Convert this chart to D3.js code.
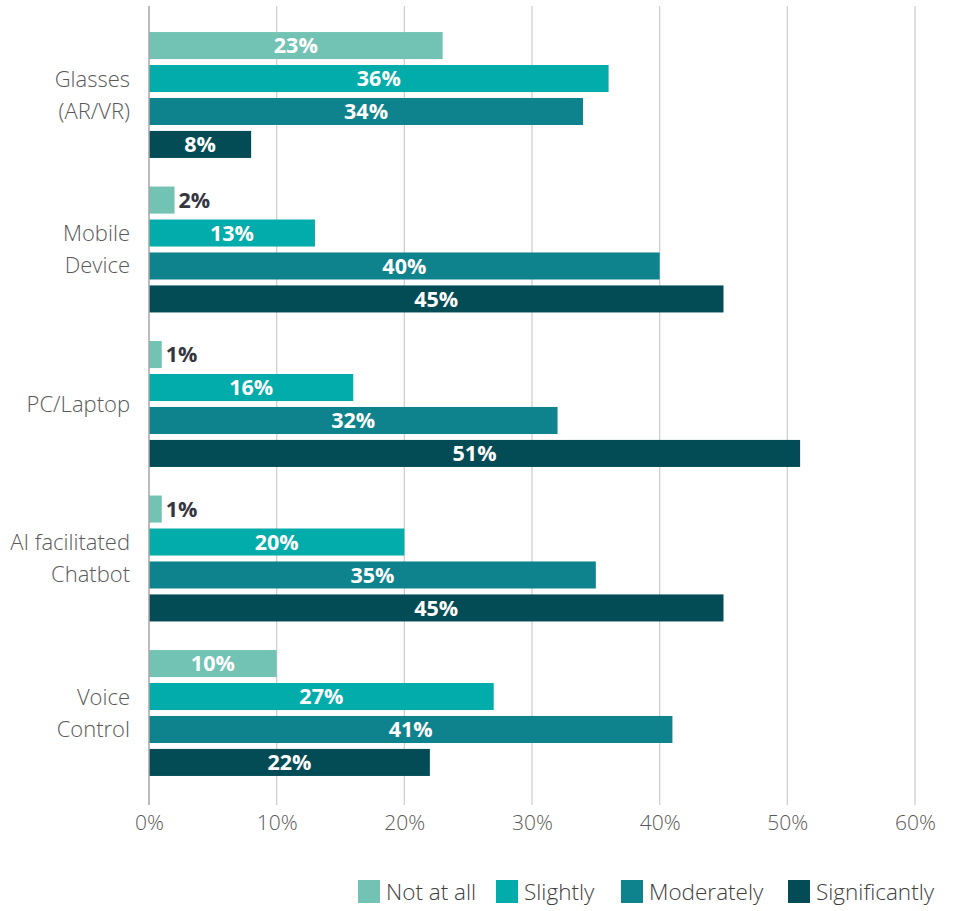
<!DOCTYPE html>
<html>
<head>
<meta charset="utf-8">
<script src="https://cdn.jsdelivr.net/npm/d3@7"></script>
<style>
  html, body { margin: 0; padding: 0; background: #fff; }
  svg { display: block; font-family: "Open Sans", sans-serif; }
</style>
</head>
<body>
<svg id="chart" width="954" height="911"></svg>
<script>
// Devices and the share of respondents for each level of change
const categories = [["Glasses", "(AR/VR)"], ["Mobile", "Device"], ["PC/Laptop"], ["AI facilitated", "Chatbot"], ["Voice", "Control"]];
const seriesNames = ["Not at all", "Slightly", "Moderately", "Significantly"];
const notAtAll     = [23, 2, 1, 1, 10];
const slightly     = [36, 13, 16, 20, 27];
const moderately   = [34, 40, 32, 35, 41];
const significantly = [8, 45, 51, 45, 22];
const seriesColors = ["#72c3b4", "#02acaa", "#0e838d", "#034c56"];
const xTicks = [0, 10, 20, 30, 40, 50, 60];

const series = [notAtAll, slightly, moderately, significantly];

const svg = d3.select("#chart");
const x = d3.scaleLinear().domain([0, 60]).range([149, 915]);
const y0 = d3.scaleBand()
  .domain(d3.range(categories.length))
  .range([17.75, 790.25])
  .paddingInner(0.185)
  .paddingOuter(0.0925);
const y1 = d3.scaleBand()
  .domain(d3.range(seriesNames.length))
  .range([0, y0.bandwidth()])
  .paddingInner(0.18)
  .paddingOuter(0);

// Vertical gridlines, extending a little below the plot as tick marks
svg.append("g").selectAll("line")
  .data(xTicks.slice(1))
  .join("line")
  .attr("x1", d => x(d)).attr("x2", d => x(d))
  .attr("y1", 6).attr("y2", 805)
  .attr("stroke", "#d0d0d0").attr("stroke-width", 1.3);

// Bottom axis labels
const xAxis = d3.axisBottom(x).tickValues(xTicks).tickFormat(d => d + "%").tickSize(0).tickPadding(0);
const gx = svg.append("g").attr("transform", "translate(0,815)").call(xAxis);
gx.select(".domain").remove();
gx.selectAll("text")
  .attr("dy", "0.71em")
  .attr("font-family", "Open Sans")
  .attr("font-weight", 300)
  .attr("font-size", 21)
  .attr("fill", "#595959");

// Bars
const groups = svg.append("g").selectAll("g")
  .data(categories.map((c, i) => i))
  .join("g")
  .attr("transform", i => `translate(0,${y0(i)})`);

groups.selectAll("rect")
  .data(i => series.map((s, k) => ({ k, v: s[i] })))
  .join("rect")
  .attr("x", x(0))
  .attr("y", d => y1(d.k))
  .attr("width", d => x(d.v) - x(0))
  .attr("height", y1.bandwidth())
  .attr("fill", d => seriesColors[d.k]);

// Value labels: centred inside long bars, just past the end of short ones
groups.selectAll("text.val")
  .data(i => series.map((s, k) => ({ k, v: s[i] })))
  .join("text")
  .attr("class", "val")
  .attr("x", d => d.v < 5 ? x(d.v) + 4 : (x(0) + x(d.v)) / 2)
  .attr("y", d => y1(d.k) + y1.bandwidth() / 2)
  .attr("dy", "0.36em")
  .attr("text-anchor", d => d.v < 5 ? "start" : "middle")
  .attr("font-weight", 700)
  .attr("font-size", 21.5)
  .attr("fill", d => d.v < 5 ? "#36363f" : "#ffffff")
  .text(d => d.v + "%");

// Axis line at zero
svg.append("line")
  .attr("x1", x(0)).attr("x2", x(0))
  .attr("y1", 6).attr("y2", 805)
  .attr("stroke", "#a6a6a6").attr("stroke-width", 1.5);

// Category labels (one or two lines, centred on the group)
const lineH = 32;
groups.append("text")
  .attr("text-anchor", "end")
  .attr("font-weight", 300)
  .attr("font-size", 22)
  .attr("fill", "#595959")
  .each(function(i) {
    const lines = categories[i];
    const t = d3.select(this);
    const mid = y0.bandwidth() / 2;
    lines.forEach((ln, j) => {
      t.append("tspan")
        .attr("x", 130)
        .attr("y", mid + (j - (lines.length - 1) / 2) * lineH)
        .attr("dy", "0.35em")
        .text(ln);
    });
  });

// Legend
const legendX = [358, 496, 621, 788];
const legend = svg.append("g").selectAll("g")
  .data(seriesNames)
  .join("g")
  .attr("transform", (d, i) => `translate(${legendX[i]},880)`);
legend.append("rect")
  .attr("width", 22).attr("height", 23)
  .attr("fill", (d, i) => seriesColors[i]);
legend.append("text")
  .attr("x", 28).attr("y", 12)
  .attr("dy", "0.36em")
  .attr("font-weight", 300)
  .attr("font-size", 22.5)
  .attr("fill", "#404040")
  .text(d => d);
</script>
</body>
</html>
